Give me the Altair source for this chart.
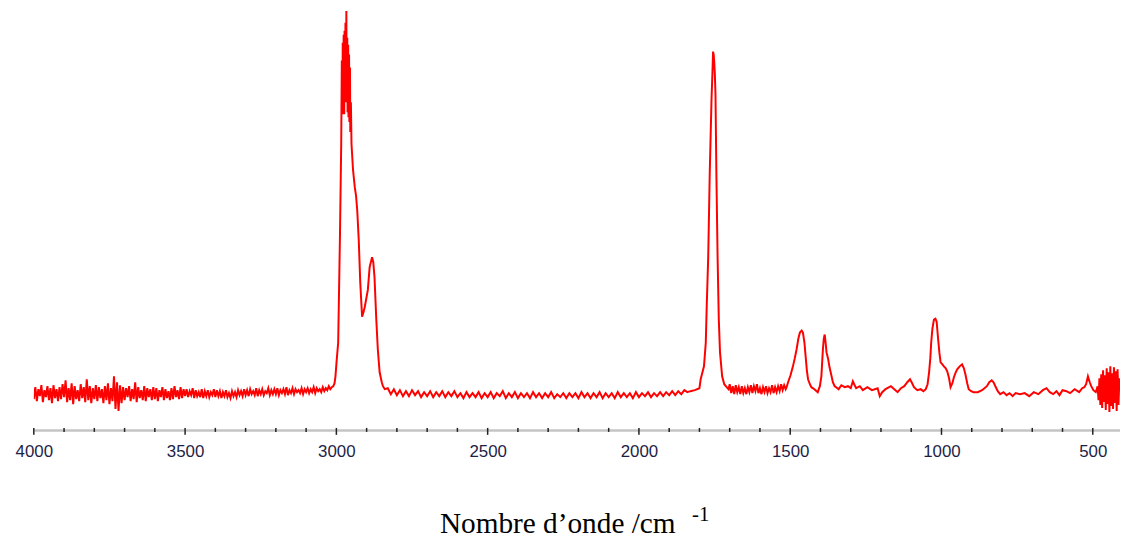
import altair as alt
import pandas as pd

# ---------------- spectrum data (wavenumber cm-1, intensity a.u.) ----------------
# high wavenumber noisy baseline (4000 -> 3010)
wn_r1 = [4000, 3995, 3990, 3985, 3980, 3975, 3970, 3965, 3960, 3955, 3950, 3945, 3940, 3935, 3930, 3925, 3920, 3915, 3910, 3905,
         3900, 3895, 3890, 3885, 3880, 3875, 3870, 3865, 3860, 3855, 3850, 3845, 3840, 3835, 3830, 3825, 3820, 3815, 3810, 3805,
         3800, 3795, 3790, 3785, 3780, 3775, 3770, 3765, 3760, 3755, 3750, 3745, 3740, 3735, 3730, 3725, 3720, 3715, 3710, 3705,
         3700, 3695, 3690, 3685, 3680, 3675, 3670, 3665, 3660, 3655, 3650, 3645, 3640, 3635, 3630, 3625, 3620, 3615, 3610, 3605,
         3600, 3595, 3590, 3585, 3580, 3575, 3570, 3565, 3560, 3555, 3550, 3545, 3540, 3535, 3530, 3525, 3520, 3515, 3510, 3505,
         3500, 3495, 3490, 3485, 3480, 3475, 3470, 3465, 3460, 3455, 3450, 3445, 3440, 3435, 3430, 3425, 3420, 3415, 3410, 3405,
         3400, 3395, 3390, 3385, 3380, 3375, 3370, 3365, 3360, 3355, 3350, 3345, 3340, 3335, 3330, 3325, 3320, 3315, 3310, 3305,
         3300, 3295, 3290, 3285, 3280, 3275, 3270, 3265, 3260, 3255, 3250, 3245, 3240, 3235, 3230, 3225, 3220, 3215, 3210, 3205,
         3200, 3195, 3190, 3185, 3180, 3175, 3170, 3165, 3160, 3155, 3150, 3145, 3140, 3135, 3130, 3125, 3120, 3115, 3110, 3105,
         3100, 3095, 3090, 3085, 3080, 3075, 3070, 3065, 3060, 3055, 3050, 3045, 3040, 3035, 3030, 3025, 3020, 3015, 3010]
in_r1 = [31, 43, 29, 41, 34, 45, 28, 40, 33, 44, 30, 42, 27, 45, 32, 41, 29, 43, 31, 46,
         33, 50, 28, 42, 30, 47, 26, 44, 31, 40, 29, 46, 32, 43, 28, 51, 30, 44, 27, 42,
         31, 45, 29, 43, 32, 41, 27, 44, 30, 47, 26, 42, 29, 54, 21, 48, 19, 45, 27, 43,
         30, 42, 33, 44, 29, 41, 31, 48, 28, 43, 32, 40, 30, 44, 29, 42, 33, 41, 30, 43,
         31, 42, 29, 40, 33, 43, 30, 41, 32, 39, 30, 42, 31, 44, 33, 40, 31, 43, 32, 41,
         34, 41, 33, 39, 35, 42, 32, 40, 34, 38, 33, 41, 32, 39, 34, 40, 33, 38, 35, 41,
         33, 40, 34, 39, 32, 38, 34, 40, 33, 37, 32, 39, 34, 38, 33, 40, 35, 39, 34, 41,
         35, 40, 34, 41, 36, 39, 35, 42, 34, 40, 36, 41, 35, 39, 37, 42, 35, 40, 36, 41,
         36, 42, 35, 40, 37, 41, 36, 43, 35, 40, 37, 42, 36, 41, 38, 40, 37, 42, 36, 41,
         38, 42, 37, 41, 38, 43, 37, 42, 39, 41, 38, 43, 39, 42, 40, 44, 41, 43, 44]

# C-H stretching band
wn_r2 = [3006, 3003, 2999, 2994, 2988, 2984, 2982, 2980, 2979, 2977, 2976, 2974, 2973, 2971, 2970,
         2968, 2967, 2966, 2964, 2963, 2961, 2960, 2958, 2957, 2955, 2954, 2952, 2950, 2945, 2939,
         2935, 2931, 2926, 2921, 2915, 2910, 2906, 2896, 2890, 2882, 2878, 2874, 2868, 2863, 2857,
         2850, 2846, 2840]
in_r2 = [47, 54, 70, 88, 198, 288, 372, 318, 390, 335, 398, 318, 402, 330, 410,
         340, 422, 330, 395, 320, 388, 315, 378, 310, 365, 300, 330, 288, 262, 244,
         236, 221, 191, 148, 114, 119, 124, 141, 164, 174, 169, 154, 111, 81, 58,
         48, 44, 41]

# quiet baseline (2830 -> 1850)
wn_r3 = [2830, 2820, 2810, 2800, 2790, 2780, 2770, 2760, 2750, 2740,
         2730, 2720, 2710, 2700, 2690, 2680, 2670, 2660, 2650, 2640,
         2630, 2620, 2610, 2600, 2590, 2580, 2570, 2560, 2550, 2540,
         2530, 2520, 2510, 2500, 2490, 2480, 2470, 2460, 2450, 2440,
         2430, 2420, 2410, 2400, 2390, 2380, 2370, 2360, 2350, 2340,
         2330, 2320, 2310, 2300, 2290, 2280, 2270, 2260, 2250, 2240,
         2230, 2220, 2210, 2200, 2190, 2180, 2170, 2160, 2150, 2140,
         2130, 2120, 2110, 2100, 2090, 2080, 2070, 2060, 2050, 2040,
         2030, 2020, 2010, 2000, 1990, 1980, 1970, 1960, 1950, 1940,
         1930, 1920, 1910, 1900, 1890, 1880, 1870, 1860, 1850]
in_r3 = [42, 36, 41, 35, 40, 34, 39, 34, 40, 35,
         39, 33, 38, 34, 39, 33, 38, 34, 39, 33,
         38, 34, 39, 33, 37, 32, 38, 33, 37, 33,
         38, 32, 37, 33, 38, 32, 37, 34, 39, 32,
         37, 33, 38, 32, 37, 33, 37, 32, 38, 33,
         37, 32, 37, 33, 38, 32, 36, 33, 37, 32,
         37, 33, 37, 32, 38, 33, 37, 32, 37, 33,
         38, 32, 37, 33, 37, 32, 38, 33, 37, 33,
         37, 32, 38, 33, 37, 34, 38, 33, 37, 34,
         38, 34, 38, 35, 39, 35, 39, 36, 40]

# C=O stretching band
wn_r4 = [1840, 1830, 1815, 1800, 1796, 1785, 1779, 1776, 1771, 1766, 1760, 1757, 1755, 1753, 1751, 1749,
         1747, 1744, 1740, 1736, 1732, 1725, 1718, 1710, 1704]
in_r4 = [38, 39, 40, 42, 51, 64, 88, 124, 174, 258, 334, 360, 381, 378, 370, 358,
         338, 258, 174, 111, 78, 54, 46, 43, 41]

# baseline after carbonyl
wn_r5 = [1700, 1695, 1690, 1685, 1680, 1675, 1670, 1665, 1660, 1655, 1650, 1645, 1640, 1635, 1630,
         1625, 1620, 1615, 1610, 1605, 1600, 1595, 1590, 1585, 1580, 1575, 1570, 1565, 1560, 1555,
         1550, 1545, 1540, 1535, 1530, 1525, 1520, 1515, 1512]
in_r5 = [46, 37, 44, 36, 45, 38, 43, 36, 44, 37, 42, 36, 43, 38, 45,
         37, 44, 39, 46, 37, 42, 36, 43, 38, 44, 37, 42, 38, 45, 37,
         43, 38, 44, 39, 46, 40, 45, 41, 43]

# fingerprint region
wn_r6 = [1507, 1499, 1491, 1485, 1479, 1473, 1468, 1462, 1458, 1453, 1449, 1445, 1441, 1435, 1430,
         1420, 1409, 1402, 1397, 1392, 1389, 1386, 1383, 1380, 1375, 1370, 1364, 1359, 1353, 1348,
         1340, 1331, 1320, 1309, 1300, 1293, 1287, 1282, 1270, 1260, 1245, 1230, 1211, 1204, 1196,
         1185, 1167, 1156, 1145, 1134, 1123, 1113, 1104, 1097, 1091, 1080, 1069, 1060, 1052, 1046,
         1041, 1037, 1034, 1030, 1025, 1020, 1016, 1011, 1007, 1003, 997, 992, 986, 981, 975,
         970, 964, 959, 953, 948, 940, 932, 926, 921, 915, 910, 902, 894, 880, 866,
         858, 850, 842, 834, 828, 822, 814, 806, 795, 785, 775, 765, 755, 740, 725,
         710, 695, 680, 665, 653, 642, 631, 620, 610, 600, 587, 575, 560, 545, 535,
         528, 522, 516, 510, 505, 498, 490, 484]
in_r6 = [48, 55, 64, 72, 81, 92, 98, 100, 98, 88, 74, 60, 51, 46, 43,
         41, 38, 44, 54, 81, 92, 96, 88, 78, 72, 63, 55, 48, 44, 43,
         41, 45, 43, 44, 42, 49, 45, 42, 44, 40, 43, 40, 42, 34, 38,
         41, 44, 41, 38, 42, 44, 48, 51, 47, 43, 40, 41, 39, 41, 46,
         58, 72, 88, 102, 111, 112, 109, 91, 78, 68, 66, 64, 62, 59, 52,
         43, 47, 53, 58, 61, 64, 66, 62, 56, 47, 41, 39, 38, 38, 40,
         42, 44, 48, 50, 48, 44, 39, 36, 38, 35, 37, 34, 37, 36, 37,
         34, 38, 36, 40, 42, 38, 36, 39, 35, 40, 39, 37, 41, 38, 42,
         43, 46, 54, 48, 44, 40, 38, 44]

# low wavenumber detector noise
wn_r7 = [481, 478, 475, 472, 469, 466, 463, 460, 457, 454, 451, 448, 445, 442, 439,
         436, 433, 430, 427, 424, 421, 418, 415, 412]
in_r7 = [30, 52, 25, 56, 22, 60, 28, 55, 20, 62, 26, 58, 18, 64, 24,
         57, 21, 63, 27, 59, 19, 61, 25, 52]

major_ticks = [4000, 3500, 3000, 2500, 2000, 1500, 1000, 500]
minor_ticks = [3900, 3800, 3700, 3600, 3400, 3300, 3200, 3100, 2900, 2800, 2700, 2600,
               2400, 2300, 2200, 2100, 1900, 1800, 1700, 1600, 1400, 1300, 1200, 1100,
               900, 800, 700, 600]

x_title = "Nombre d\u2019onde /cm"
x_title_sup = "-1"

# ---------------- build ----------------
spec = pd.DataFrame({
    "wn": wn_r1 + wn_r2 + wn_r3 + wn_r4 + wn_r5 + wn_r6 + wn_r7,
    "I": in_r1 + in_r2 + in_r3 + in_r4 + in_r5 + in_r6 + in_r7,
})

W, H = 1094, 423
xscale = alt.Scale(domain=[4000, 410], nice=False, zero=False)
yscale = alt.Scale(domain=[0, 423], nice=False, zero=False)

line = alt.Chart(spec).mark_line(color="#ff0000", strokeWidth=2, clip=True).encode(
    x=alt.X("wn:Q", scale=xscale,
            axis=alt.Axis(values=major_ticks, format="d", title=None, grid=False, ticks=False,
                          domainColor="#c4c4c4", domainWidth=2.5,
                          labelFont="Liberation Sans", labelFontSize=17,
                          labelColor="#1e1e46", labelPadding=14,
                          labelFlush=False, labelOverlap=False)),
    y=alt.Y("I:Q", scale=yscale, axis=None),
)

major = alt.Chart(pd.DataFrame({"wn": major_ticks})).mark_rule(
    color="#222222", strokeWidth=1.5).encode(
    x=alt.X("wn:Q", scale=xscale), y=alt.value(H - 2), y2=alt.value(H + 5))

minor = alt.Chart(pd.DataFrame({"wn": minor_ticks})).mark_rule(
    color="#222222", strokeWidth=1.5).encode(
    x=alt.X("wn:Q", scale=xscale), y=alt.value(H - 2), y2=alt.value(H + 2))

title_main = alt.Chart(pd.DataFrame({"t": [x_title]})).mark_text(
    font="Liberation Serif", fontSize=29.5, color="#000000", align="left",
    baseline="alphabetic").encode(x=alt.value(409), y=alt.value(527), text="t:N")

title_sup = alt.Chart(pd.DataFrame({"t": [x_title_sup]})).mark_text(
    font="Liberation Serif", fontSize=21, color="#000000", align="left",
    baseline="alphabetic").encode(x=alt.value(663), y=alt.value(515), text="t:N")

chart = alt.layer(line, major, minor, title_main, title_sup).properties(
    width=W, height=H,
    padding={"left": 26, "top": 0, "right": 0, "bottom": 112},
    autosize=alt.AutoSizeParams(type="none"),
).configure(background="#ffffff").configure_view(stroke=None)

chart.save("out.html", embed_options={"renderer": "svg", "actions": False})
